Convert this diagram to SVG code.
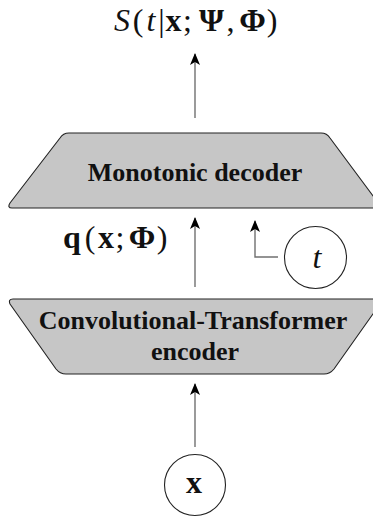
<svg xmlns="http://www.w3.org/2000/svg" width="373" height="518" viewBox="0 0 373 518">
<style>
.blk{fill:#c6c6c6;stroke:#222;stroke-width:1.1;stroke-linejoin:round}
.lbl{font-family:"Liberation Serif","Times New Roman",serif;font-weight:bold;font-size:26px;fill:#111;text-anchor:middle}
.math{font-family:"Liberation Serif","Times New Roman",serif;font-size:32px;fill:#111;text-anchor:middle}
.b{font-weight:bold}
.i{font-style:italic}
.con{fill:none;stroke:#707070;stroke-width:1.4}
.circ{fill:#fff;stroke:#222;stroke-width:1.1}
</style>
<defs>
<marker id="ah" viewBox="0 0 12 12" refX="11" refY="6" markerWidth="12" markerHeight="12" markerUnits="userSpaceOnUse" orient="auto">
<path d="M0,1 L12,6 L0,11 L3,6 Z" fill="#000"/>
</marker>
</defs>
<g id="output">
<text class="math" y="31"><tspan class="i" x="122">S</tspan><tspan x="138">(</tspan><tspan class="i" x="151">t</tspan><tspan x="161.5">|</tspan><tspan class="b" x="173.5">x</tspan><tspan x="187.5">;</tspan><tspan class="b" x="211.5">Ψ</tspan><tspan x="230.5">,</tspan><tspan class="b" x="252.5">Φ</tspan><tspan x="272">)</tspan></text>
</g>
<g id="decoder">
<path class="blk" d="M69,133 L321,133 Q327,133 330,138 L382,208 L12,208 Q7,208 10,203 L60,138 Q63,133 69,133 Z"/>
<text class="lbl" x="195" y="181">Monotonic decoder</text>
</g>
<g id="encoder">
<path class="blk" d="M13,299 L377,299 Q382,299 380,304 L334,369 Q330,374 324,374 L66,374 Q60,374 56,369 L10,304 Q8,299 13,299 Z"/>
<text class="lbl" x="193" y="329">Convolutional-Transformer</text>
<text class="lbl" x="195" y="360">encoder</text>
</g>
<g id="q-label">
<text class="math" y="248"><tspan class="b" x="72">q</tspan><tspan x="90">(</tspan><tspan class="b" x="106">x</tspan><tspan x="120">;</tspan><tspan class="b" x="142">Φ</tspan><tspan x="162">)</tspan></text>
</g>
<g id="t-node">
<circle class="circ" cx="315.5" cy="257.5" r="31"/>
<text class="math i" x="317" y="268">t</text>
</g>
<g id="x-node">
<circle class="circ" cx="195" cy="485" r="30.5"/>
<text class="math b" x="194" y="493">x</text>
</g>
<g id="connectors">
<path class="con" d="M195,118 L195,54" marker-end="url(#ah)"/>
<path class="con" d="M195,287 L195,218" marker-end="url(#ah)"/>
<path class="con" d="M278,257 L255,257 L255,221" marker-end="url(#ah)"/>
<path class="con" d="M195,447 L195,384" marker-end="url(#ah)"/>
</g>
</svg>
